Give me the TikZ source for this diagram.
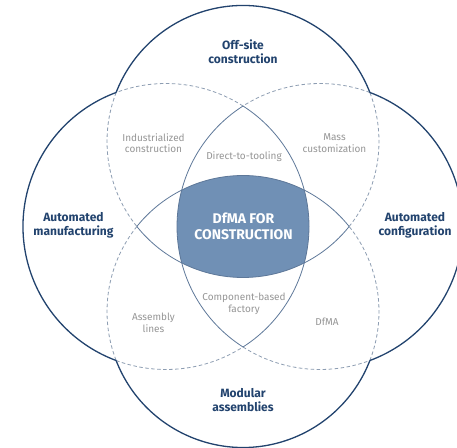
\documentclass[tikz,border=0pt]{standalone}
\usepackage{fontspec}
\setmainfont{Fira Sans}
\definecolor{navy}{HTML}{22436E}
\definecolor{lensc}{HTML}{5E7899}
\definecolor{dashc}{HTML}{8D9DB2}
\definecolor{fillc}{HTML}{7090B5}
\definecolor{greyt}{HTML}{969696}
\tikzset{
  outerline/.style={draw=navy,line width=1.3pt},
  lensline/.style={draw=lensc,line width=0.8pt},
  dashline/.style={draw=dashc,line width=0.8pt,dash pattern=on 3.5pt off 2.5pt},
  mainlabel/.style={text=navy,align=center,inner sep=0pt,font=\fontsize{12}{14}\selectfont\bfseries},
  sublabel/.style={text=greyt,align=center,inner sep=0pt,font=\fontsize{10}{11.5}\selectfont},
  centerlabel/.style={text=white,align=center,inner sep=0pt,font=\fontsize{14}{16}\selectfont\bfseries}
}
\begin{document}
\begin{tikzpicture}[x=1pt,y=1pt]
\useasboundingbox (0,0) rectangle (457,447);
\clip (0,0) rectangle (457,447);
\fill[white] (0,0) rectangle (457,447);
\coordinate (cL) at (166,220.5);
\coordinate (cR) at (320,220.5);
\coordinate (cT) at (243,305.5);
\coordinate (cB) at (243,135.5);
% central region
\begin{scope}
  \clip (cT) circle[radius=136];
  \clip (cB) circle[radius=136];
  \clip (cL) circle[radius=143];
  \fill[fillc] (cR) circle[radius=143];
\end{scope}
% dashed arcs
\draw[dashline] ([shift={(57.42:143)}]cL) arc[start angle=57.42,end angle=110.40,radius=143];
\draw[dashline] ([shift={(249.60:143)}]cL) arc[start angle=249.60,end angle=302.58,radius=143];
\draw[dashline] ([shift={(69.60:143)}]cR) arc[start angle=69.60,end angle=122.58,radius=143];
\draw[dashline] ([shift={(237.42:143)}]cR) arc[start angle=237.42,end angle=290.40,radius=143];
\draw[dashline] ([shift={(158.87:136)}]cT) arc[start angle=158.87,end angle=218.67,radius=136];
\draw[dashline] ([shift={(321.33:136)}]cT) arc[start angle=321.33,end angle=381.13,radius=136];
\draw[dashline] ([shift={(141.33:136)}]cB) arc[start angle=141.33,end angle=201.13,radius=136];
\draw[dashline] ([shift={(-21.13:136)}]cB) arc[start angle=-21.13,end angle=38.67,radius=136];
% lens arcs
\draw[lensline] ([shift={(-57.42:143)}]cL) arc[start angle=-57.42,end angle=57.42,radius=143];
\draw[lensline] ([shift={(122.58:143)}]cR) arc[start angle=122.58,end angle=237.42,radius=143];
\draw[lensline] ([shift={(218.67:136)}]cT) arc[start angle=218.67,end angle=321.33,radius=136];
\draw[lensline] ([shift={(38.67:136)}]cB) arc[start angle=38.67,end angle=141.33,radius=136];
% outer arcs
\draw[outerline] ([shift={(110.40:143)}]cL) arc[start angle=110.40,end angle=249.60,radius=143];
\draw[outerline] ([shift={(-69.60:143)}]cR) arc[start angle=-69.60,end angle=69.60,radius=143];
\draw[outerline] ([shift={(21.13:136)}]cT) arc[start angle=21.13,end angle=158.87,radius=136];
\draw[outerline] ([shift={(201.13:136)}]cB) arc[start angle=201.13,end angle=338.87,radius=136];
% labels
\node[mainlabel] (off) at (243,395.5) {Off-site\\construction};
\node[mainlabel] (man) at (73.5,221.5) {Automated\\manufacturing};
\node[mainlabel] (conf) at (415,222) {Automated\\configuration};
\node[mainlabel] (mod) at (243,46.5) {Modular\\assemblies};
\node[sublabel] (ind) at (153.5,304) {Industrialized\\construction};
\node[sublabel] (mass) at (334.5,304) {Mass\\customization};
\node[sublabel] (dtt) at (244,290) {Direct-to-tooling};
\node[sublabel] (comp) at (244,143) {Component-based\\factory};
\node[sublabel] (asm) at (153.5,124) {Assembly\\lines};
\node[sublabel] (dfma) at (327,125) {DfMA};
\node[centerlabel] (center) at (243.5,220.7) {DfMA FOR\\CONSTRUCTION};
\end{tikzpicture}
\end{document}
